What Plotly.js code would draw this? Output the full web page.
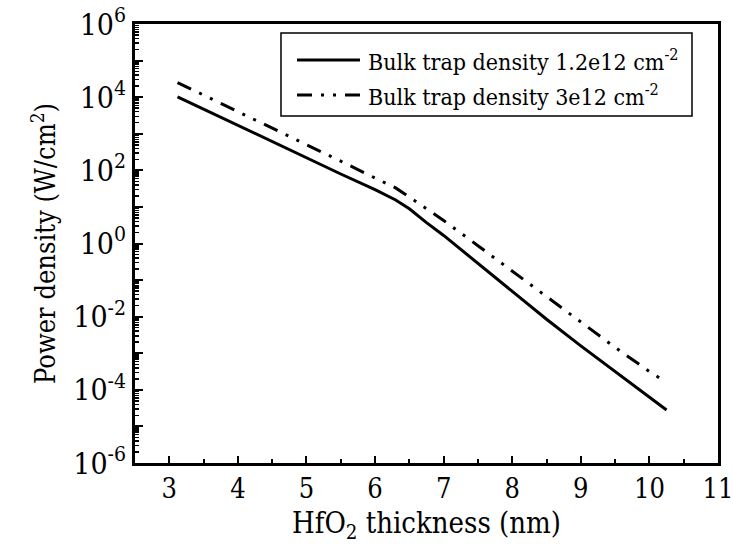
<!DOCTYPE html>
<html>
<head>
<meta charset="utf-8">
<script src="https://cdn.plot.ly/plotly-3.0.1.min.js"></script>
<style>
  html, body { margin: 0; padding: 0; background: #fff; }
  #chart { width: 733px; height: 554px; }
</style>
</head>
<body>
<div id="chart"></div>
<script>
// HfO2 thickness (nm)
const thickness = [3.12, 3.5, 4.0, 4.5, 5.0, 5.5, 6.0, 6.3, 6.5, 6.75, 7.0, 7.5, 8.0, 8.5, 9.0, 9.5, 10.0, 10.25];
// log10 of power density (W/cm^2) for each bulk trap density
const logPowerLow  = [4.01, 3.67, 3.22, 2.78, 2.34, 1.90, 1.47, 1.19, 0.95, 0.57, 0.22, -0.54, -1.30, -2.07, -2.80, -3.50, -4.20, -4.55];
const logPowerHigh = [4.40, 4.06, 3.61, 3.16, 2.71, 2.25, 1.79, 1.52, 1.27, 0.95, 0.63, -0.06, -0.76, -1.46, -2.14, -2.84, -3.50, -3.80];
const seriesNames = ['Bulk trap density 1.2e12 cm<sup>-2</sup>', 'Bulk trap density 3e12 cm<sup>-2</sup>'];
const yTickExp = [-6, -5, -4, -3, -2, -1, 0, 1, 2, 3, 4, 5, 6];
const xTickVals = [3, 4, 5, 6, 7, 8, 9, 10, 11];

const toPow = a => a.map(v => Math.pow(10, v));
const dashDotDot = '15px,9px,3px,9px,3px,9px';
const FONT = "'DejaVu Serif Condensed', 'DejaVu Serif', serif";

const traces = [
  { x: thickness, y: toPow(logPowerLow), mode: 'lines', name: seriesNames[0],
    line: { color: '#000', width: 3 }, showlegend: false },
  { x: thickness, y: toPow(logPowerHigh), mode: 'lines', name: seriesNames[1],
    line: { color: '#000', width: 3, dash: dashDotDot }, showlegend: false }
];

// legend box drawn in paper coordinates
const lg = { x0: 0.2504, x1: 0.9554, y0: 0.7904, y1: 0.9795, sx0: 0.2779, sx1: 0.3859, tx: 0.3962, rows: [0.918, 0.8383] };
const shapes = [
  { type: 'rect', xref: 'paper', yref: 'paper', x0: lg.x0, x1: lg.x1, y0: lg.y0, y1: lg.y1,
    line: { color: '#000', width: 1.5 }, fillcolor: '#fff' },
  { type: 'line', xref: 'paper', yref: 'paper', x0: lg.sx0, x1: lg.sx1, y0: lg.rows[0], y1: lg.rows[0],
    line: { color: '#000', width: 3 } },
  { type: 'line', xref: 'paper', yref: 'paper', x0: lg.sx0, x1: lg.sx1, y0: lg.rows[1], y1: lg.rows[1],
    line: { color: '#000', width: 3, dash: dashDotDot } }
];
const annotations = seriesNames.map((t, i) => ({
  xref: 'paper', yref: 'paper', x: lg.tx, y: lg.rows[i], xanchor: 'left', yanchor: 'middle',
  text: t, showarrow: false, font: { family: FONT, size: 23, color: '#000' }
}));

const layout = {
  width: 733, height: 554,
  margin: { l: 135, r: 15, t: 24, b: 91 },
  paper_bgcolor: '#fff', plot_bgcolor: '#fff',
  font: { family: FONT, color: '#000' },
  showlegend: false,
  xaxis: {
    type: 'linear', range: [2.5, 11],
    tickvals: xTickVals, ticktext: xTickVals.map(String),
    ticks: 'inside', ticklen: 7, tickwidth: 2, tickcolor: '#000',
    ticklabeloverflow: 'allow',
    minor: { tickvals: [3.5, 4.5, 5.5, 6.5, 7.5, 8.5, 9.5, 10.5], ticks: 'inside', ticklen: 4, tickwidth: 2, tickcolor: '#000' },
    showline: true, linewidth: 3, linecolor: '#000', mirror: true,
    showgrid: false, zeroline: false,
    tickfont: { family: FONT, size: 27, color: '#000' },
    title: { text: 'HfO<sub>2</sub> thickness (nm)', font: { family: FONT, size: 29, color: '#000' }, standoff: 10 }
  },
  yaxis: {
    type: 'log', range: [-6, 6],
    tickvals: yTickExp.map(e => Math.pow(10, e)),
    ticktext: yTickExp.map(e => (e % 2 === 0) ? '10<sup>' + e + '</sup>' : ''),
    ticks: 'inside', ticklen: 8, tickwidth: 2, tickcolor: '#000',
    minor: { dtick: 'D1', ticks: 'inside', ticklen: 4, tickwidth: 1.5, tickcolor: '#000' },
    showline: true, linewidth: 3, linecolor: '#000', mirror: true,
    showgrid: false, zeroline: false,
    tickfont: { family: FONT, size: 30, color: '#000' },
    title: { text: 'Power density (W/cm<sup>2</sup>)', font: { family: FONT, size: 27, color: '#000' }, standoff: 10 }
  },
  shapes: shapes,
  annotations: annotations
};

Plotly.newPlot('chart', traces, layout, { staticPlot: true, displayModeBar: false });
</script>
</body>
</html>
